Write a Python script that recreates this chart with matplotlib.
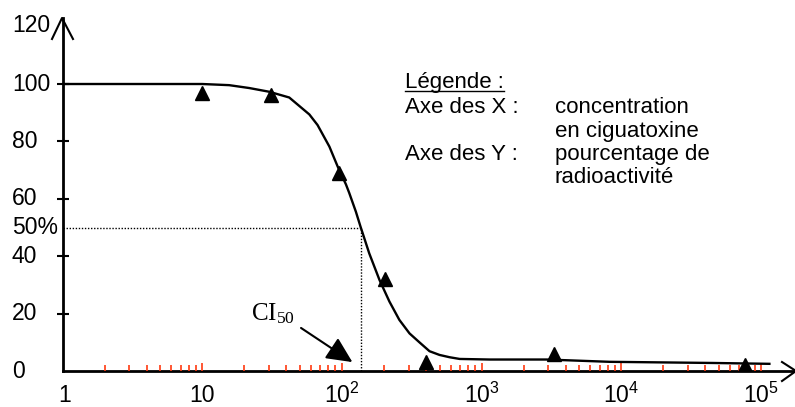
import matplotlib
matplotlib.use("Agg")
import matplotlib.pyplot as plt
import matplotlib.transforms as mtransforms
from matplotlib.lines import Line2D

plt.rcParams['font.family'] = ['Liberation Sans', 'DejaVu Sans']

# measured points (concentration, % radioactivity)
conc = [10, 31, 95, 205, 400, 3300, 77000]
radio = [97, 96, 69, 32, 3, 6, 2]

# fitted curve
curve_x = [1, 10, 15.6, 21.7, 30.2, 42, 58.5, 67, 81.4, 93.4, 107, 113, 126, 136, 157,
           186, 219, 258, 305, 359, 424, 500, 590, 697, 1140, 2920, 8270, 45000, 115000]
curve_y = [100, 100, 99.6, 98.6, 97.3, 95.3, 89.4, 85.7, 78.2, 71.2, 65.0, 62.0, 55.5, 50.3, 41.0,
           31.7, 24.2, 17.8, 13.1, 10.0, 6.9, 5.6, 4.8, 4.2, 4.0, 4.0, 3.2, 2.8, 2.5]

ci50 = 136
y_ticks = [0, 20, 40, 50, 60, 80, 100, 120]
y_labels = ['0', '20', '40', '50%', '60', '80', '100', '120']
x_ticks = [1, 10, 100, 1000, 10000, 100000]
x_labels = ['1', '10', r'$\mathregular{10^{2}}$', r'$\mathregular{10^{3}}$',
            r'$\mathregular{10^{4}}$', r'$\mathregular{10^{5}}$']

W, H = 795, 407
fig = plt.figure(figsize=(W / 100, H / 100), dpi=100)

def px(x, y):
    return x / W, 1 - y / H

ax = fig.add_axes([62.5 / W, 36 / H, (795 - 62.5) / W, (371 - 18) / H])
ax.set_xscale('log')
ax.set_xlim(1, 10 ** 5.244)
ax.set_ylim(0, 123)

for s in ['top', 'right']:
    ax.spines[s].set_visible(False)
for s in ['left', 'bottom']:
    ax.spines[s].set_linewidth(2)
    ax.spines[s].set_zorder(1)

# curve, points, dotted IC50 guides
ax.plot(curve_x, curve_y, color='black', lw=1.7, zorder=3)
ax.plot(conc, radio, linestyle='none', marker='^', color='black', ms=10.5, zorder=4)
ax.plot([1, ci50], [50, 50], color='black', lw=1, linestyle=(0, (1, 1.2)), zorder=2)
ax.plot([ci50, ci50], [0, 50], color='black', lw=1, linestyle=(0, (1, 1.2)), zorder=2)

# y axis ticks and labels
ax.set_yticks(y_ticks)
ax.set_yticklabels([])
ax.tick_params(axis='y', direction='inout', length=8.5, width=1.5, color='black')
for t, v in zip(ax.yaxis.get_major_ticks(), y_ticks):
    if v in (0, 50, 120):
        t.tick1line.set_visible(False)
ylab_tr = mtransforms.blended_transform_factory(fig.transFigure, ax.transData)
for v, lab in zip(y_ticks, y_labels):
    yy = v if v != 120 else 120.5
    ax.text(12 / W, yy, lab, transform=ylab_tr, ha='left', va='center', fontsize=16.5)

# x axis ticks (red, inside) and labels
ax.set_xticks(x_ticks)
ax.set_xticklabels([])
minor = [m * 10 ** k for k in range(5) for m in range(2, 10)]
ax.set_xticks(minor, minor=True)
ax.xaxis.set_minor_formatter(plt.NullFormatter())
ax.tick_params(axis='x', which='major', direction='in', length=5.5, width=1.2, color='#ff3a10')
ax.tick_params(axis='x', which='minor', direction='in', length=4, width=1.2, color='#ff3a10')
ax.xaxis.get_major_ticks()[0].tick1line.set_visible(False)
xlab_tr = mtransforms.blended_transform_factory(ax.transData, fig.transFigure)
for v, lab in zip(x_ticks, x_labels):
    xx = v * 1.04 if v == 1 else v
    ax.text(xx, 1 - 402.5 / H, lab, transform=xlab_tr, ha='center', va='baseline', fontsize=16.5)

# arrow heads on the axes
fig.add_artist(Line2D([px(52, 39)[0], px(62, 18)[0], px(73, 39)[0]],
                      [px(52, 39)[1], px(62, 18)[1], px(73, 39)[1]],
                      transform=fig.transFigure, color='black', lw=1.5))
fig.add_artist(Line2D([px(782, 362)[0], px(796, 371)[0], px(782, 381)[0]],
                      [px(782, 362)[1], px(796, 371)[1], px(782, 381)[1]],
                      transform=fig.transFigure, color='black', lw=1.5))

# CI50 annotation
ax.annotate('', xy=(119, 3.1), xytext=(51, 15),
            arrowprops=dict(arrowstyle='-|>,head_length=1.05,head_width=0.5',
                            mutation_scale=15, color='black', lw=1.5,
                            shrinkA=0, shrinkB=0))
ax.text(22.5, 17.8, r'$\mathregular{CI_{50}}$', fontsize=18, family='Liberation Serif',
        ha='left', va='baseline')

# legend block
leg = fig.text(*px(405, 88), 'Légende :', fontsize=16, ha='left', va='baseline')
rows = [('Axe des X :', 'concentration', 113),
        ('', 'en ciguatoxine', 136.5),
        ('Axe des Y :', 'pourcentage de', 160),
        ('', 'radioactivité', 183)]
for a, b, yy in rows:
    if a:
        fig.text(*px(405, yy), a, fontsize=16, ha='left', va='baseline')
    fig.text(*px(555, yy), b, fontsize=16, ha='left', va='baseline')

fig.canvas.draw()
bb = leg.get_window_extent()
fig.add_artist(Line2D([bb.x0 / W, bb.x1 / W], [px(0, 91)[1], px(0, 91)[1]],
                      transform=fig.transFigure, color='black', lw=1))

fig.savefig('out.png', dpi=100)
